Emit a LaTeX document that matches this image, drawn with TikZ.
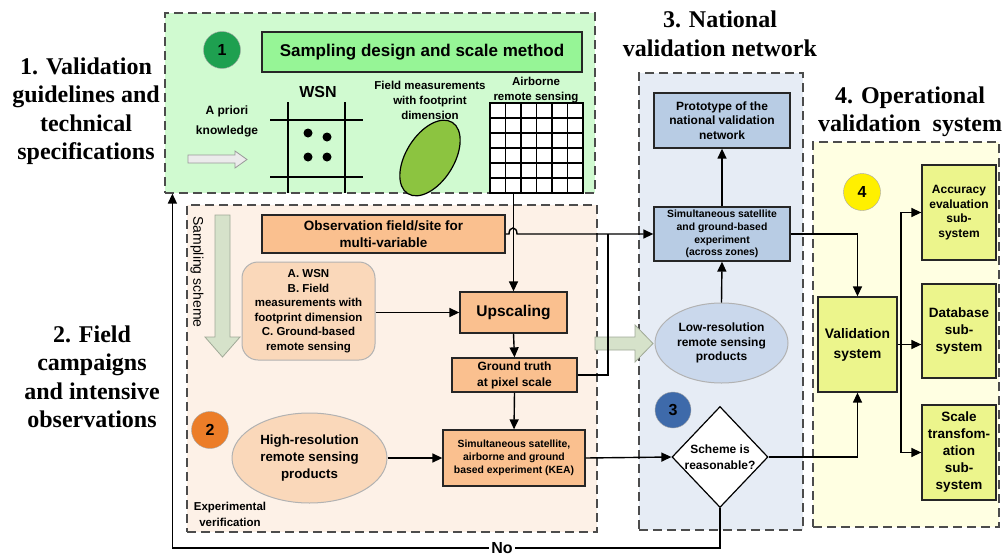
\documentclass[tikz,border=0pt]{standalone}
\usepackage{fontspec}
\setmainfont{Liberation Serif}
\setsansfont{Liberation Sans}
\usetikzlibrary{shapes.geometric,arrows.meta}
\definecolor{zgreen}{RGB}{208,250,208}
\definecolor{tgreen}{RGB}{150,245,150}
\definecolor{cgreen}{RGB}{30,160,80}
\definecolor{egreen}{RGB}{140,196,64}
\definecolor{zorange}{RGB}{253,241,231}
\definecolor{borange}{RGB}{250,192,143}
\definecolor{peach}{RGB}{250,216,186}
\definecolor{corange}{RGB}{236,125,40}
\definecolor{zblue}{RGB}{230,236,245}
\definecolor{bblue}{RGB}{184,204,228}
\definecolor{eblue}{RGB}{202,216,236}
\definecolor{cblue}{RGB}{62,106,170}
\definecolor{zyellow}{RGB}{255,255,226}
\definecolor{byellow}{RGB}{236,245,140}
\definecolor{cyellow}{RGB}{255,240,0}
\definecolor{sgreen}{RGB}{214,226,202}
\newcommand{\fsz}[2]{\fontsize{#1}{#2}\selectfont}

\begin{document}
\begin{tikzpicture}[x=1pt,y=-1pt,
	every node/.style={font=\sffamily\bfseries, align=center},
	zone/.style={draw=black!70, dash pattern=on 9pt off 5pt, line width=1.2pt, inner sep=0pt},
	box/.style={draw=black!85, line width=1.3pt, inner sep=1pt},
	num/.style={circle, draw=black!35, minimum size=37pt, inner sep=0pt, font=\sffamily\bfseries\fsz{16}{16}},
	heading/.style={font=\rmfamily\bfseries\fsz{24}{28.5}},
	line/.style={line width=1.4pt},
	arr/.style={line, -{Triangle[length=10pt,width=9pt]}}]
	\useasboundingbox (0,0) rectangle (1002,557);

	% zones
	\node[zone, fill=zgreen, minimum width=430, minimum height=180] (greenzone) at (380,103) {};
	\node[zone, fill=zorange, minimum width=410, minimum height=327] (orangezone) at (392,368.5) {};
	\node[zone, fill=zblue, minimum width=164, minimum height=457] (bluezone) at (721,301.5) {};
	\node[zone, fill=zyellow, minimum width=186, minimum height=385] (yellowzone) at (906,334.5) {};

	% headings
	\node[heading] (h1) at (86,111) {1. Validation\\guidelines and\\technical\\specifications};
	\node[heading] (h2) at (92,377) {2. Field\\campaigns\\and intensive\\observations};
	\node[heading] (h3) at (720,34) {3. National\\validation network};
	\node[heading] (h4) at (910,112) {4. Operational\\validation\ \ system};

	% 1. sampling design
	\node[num, fill=cgreen] (c1) at (222,50) {1};
	\node[box, fill=tgreen, minimum width=320, minimum height=40, font=\sffamily\bfseries\fsz{17}{20}] (title) at (422,52) {Sampling design and scale method};
	\node[font=\sffamily\bfseries\fsz{12}{20}] (prior) at (227,121) {A priori\\knowledge};
	\filldraw[fill=black!8, draw=black!40, line width=0.8pt] (188,155) -- (235,155) -- (235,151) -- (247,159.5) -- (235,168) -- (235,163) -- (188,163) -- cycle;
	\node[font=\sffamily\bfseries\fsz{16}{16}] (wsnlabel) at (318,92) {WSN};
	\draw[line] (288,102) -- (288,193) (345,102) -- (345,193) (270,120) -- (363,120) (270,177) -- (363,177);
	\fill (308,133) circle (4.5) (327,137) circle (4.5) (308,157) circle (4.5) (327,157) circle (4.5);
	\node[font=\sffamily\bfseries\fsz{11.5}{15}] (fieldlabel) at (430,100) {Field measurements\\with footprint\\dimension};
	\node[ellipse, draw, line width=1.2pt, fill=egreen, minimum width=84, minimum height=48, rotate=58] (footprint) at (430,158) {};
	\node[font=\sffamily\bfseries\fsz{11.5}{15}] (airlabel) at (536,90) {Airborne\\remote sensing};
	\node[draw, line width=1.2pt, fill=white, minimum width=93, minimum height=90, inner sep=0pt] (asgrid) at (536.5,148) {};
	\foreach \i in {1,...,5} {
		\draw[line width=1.2pt] (490+15.5*\i,103) -- (490+15.5*\i,193);
		\draw[line width=1.2pt] (490,103+15*\i) -- (583,103+15*\i);
	}

	% 2. field campaigns
	\node[rotate=-90, font=\sffamily\fsz{14}{14}] (scheme) at (197,272) {Sampling scheme};
	\filldraw[fill=sgreen, draw=sgreen!75!black, line width=0.8pt] (215,215) -- (230,215) -- (230,337) -- (240,337) -- (222.5,357) -- (205,337) -- (215,337) -- cycle;
	\node[box, fill=borange, minimum width=243, minimum height=38, font=\sffamily\bfseries\fsz{13.5}{17}] (obs) at (383.5,234) {Observation field/site for\\multi-variable};
	\node[draw=black!30, line width=1pt, rounded corners=16pt, fill=peach, minimum width=133, minimum height=98, inner sep=0pt, font=\sffamily\bfseries\fsz{11.5}{14.5}] (sites) at (308.5,311) {A. WSN\\B. Field\\measurements with\\footprint dimension\\C. Ground-based\\remote sensing};
	\node[box, fill=borange, minimum width=107, minimum height=41, font=\sffamily\bfseries\fsz{15.5}{18}] (up) at (513.5,312.5) {Upscaling};
	\node[box, fill=borange, minimum width=125, minimum height=34, font=\sffamily\bfseries\fsz{12}{16}] (gt) at (514.5,375) {Ground truth\\at pixel scale};
	\node[box, fill=borange, minimum width=142, minimum height=56, font=\sffamily\bfseries\fsz{10.4}{13}] (kea) at (514,458) {Simultaneous satellite,\\airborne and ground\\based experiment (KEA)};
	\node[num, fill=corange] (c2) at (210,430) {2};
	\node[ellipse, draw=black!30, line width=1pt, fill=peach, minimum width=155, minimum height=90, inner sep=0pt, font=\sffamily\bfseries\fsz{13.3}{17}] (hr) at (309.5,458) {High-resolution\\remote sensing\\products};
	\node[font=\sffamily\bfseries\fsz{11.5}{16}] (verif) at (230,514) {Experimental\\verification};

	% 3. national network
	\node[box, fill=bblue, minimum width=136, minimum height=55, font=\sffamily\bfseries\fsz{12}{14.5}] (proto) at (722,120.5) {Prototype of the\\national validation\\network};
	\node[box, fill=bblue, minimum width=136, minimum height=54, font=\sffamily\bfseries\fsz{10.4}{12.7}] (sim) at (722,234) {Simultaneous satellite\\and ground-based\\experiment\\(across zones)};
	\node[ellipse, draw=black!30, line width=1pt, fill=eblue, minimum width=133, minimum height=80, inner sep=0pt, font=\sffamily\bfseries\fsz{12}{14.5}] (lr) at (721.5,343) {Low-resolution\\remote sensing\\products};
	\node[num, fill=cblue, minimum size=36pt] (c3) at (673,410) {3};
	\node[diamond, draw, line width=1.2pt, fill=white, minimum width=96, minimum height=101, inner sep=0pt, font=\sffamily\bfseries\fsz{12}{16}] (dia) at (720,457) {Scheme is\\reasonable?};
	\filldraw[fill=sgreen, draw=sgreen!75!black, line width=0.8pt] (595,337) -- (635,337) -- (635,325) -- (653,343.5) -- (635,362) -- (635,350) -- (595,350) -- cycle;

	% 4. operational system
	\node[num, fill=cyellow] (c4) at (862,192) {4};
	\node[box, fill=byellow, minimum width=79, minimum height=95, font=\sffamily\bfseries\fsz{13.8}{20}] (vs) at (857.5,344.5) {Validation\\system};
	\node[box, fill=byellow, minimum width=74, minimum height=95, font=\sffamily\bfseries\fsz{12}{14.5}] (acc) at (959,212.5) {Accuracy\\evaluation\\sub-\\system};
	\node[box, fill=byellow, minimum width=74, minimum height=94, font=\sffamily\bfseries\fsz{13.5}{16.7}] (db) at (959,331) {Database\\sub-\\system};
	\node[box, fill=byellow, minimum width=74, minimum height=95, font=\sffamily\bfseries\fsz{13.5}{17}] (sc) at (959,452.5) {Scale\\transfom-\\ation\\sub-\\system};

	% connectors
	\draw[arr] (up.north |- asgrid.south) -- (up.north);
	\draw[arr] (obs.east) -- (509,234) .. controls (509,226) and (517,226) .. (517,234) -- (sim.west);
	\draw[arr] (sites.east |- up.west) -- (up.west);
	\draw[arr] (up.south) -- (gt.north);
	\draw[arr] (gt.south) -- (kea.north);
	\draw[line] (gt.east) -- (608,375) -- (608,234);
	\draw[arr] (hr.east) -- (kea.west);
	\draw[arr] (kea.east) -- (dia.west);
	\draw[arr] (lr.north) -- (sim.south);
	\draw[arr] (sim.north) -- (proto.south);
	\draw[arr] (sim.east) -| (vs.north);
	\draw[arr] (dia.east) -| (vs.south);
	\coordinate (branch) at (901,344.5);
	\draw[arr] (vs.east) -- (db.west |- vs.east);
	\draw[arr] (branch) |- (acc.west);
	\draw[arr] (branch) |- (sc.west);
	\draw[arr] (dia.south) -- (720,548) -| ([xshift=8pt]greenzone.south west);
	\node[fill=white, inner sep=2pt, font=\sffamily\bfseries\fsz{16}{16}] (no) at (502,548) {No};
\end{tikzpicture}
\end{document}
